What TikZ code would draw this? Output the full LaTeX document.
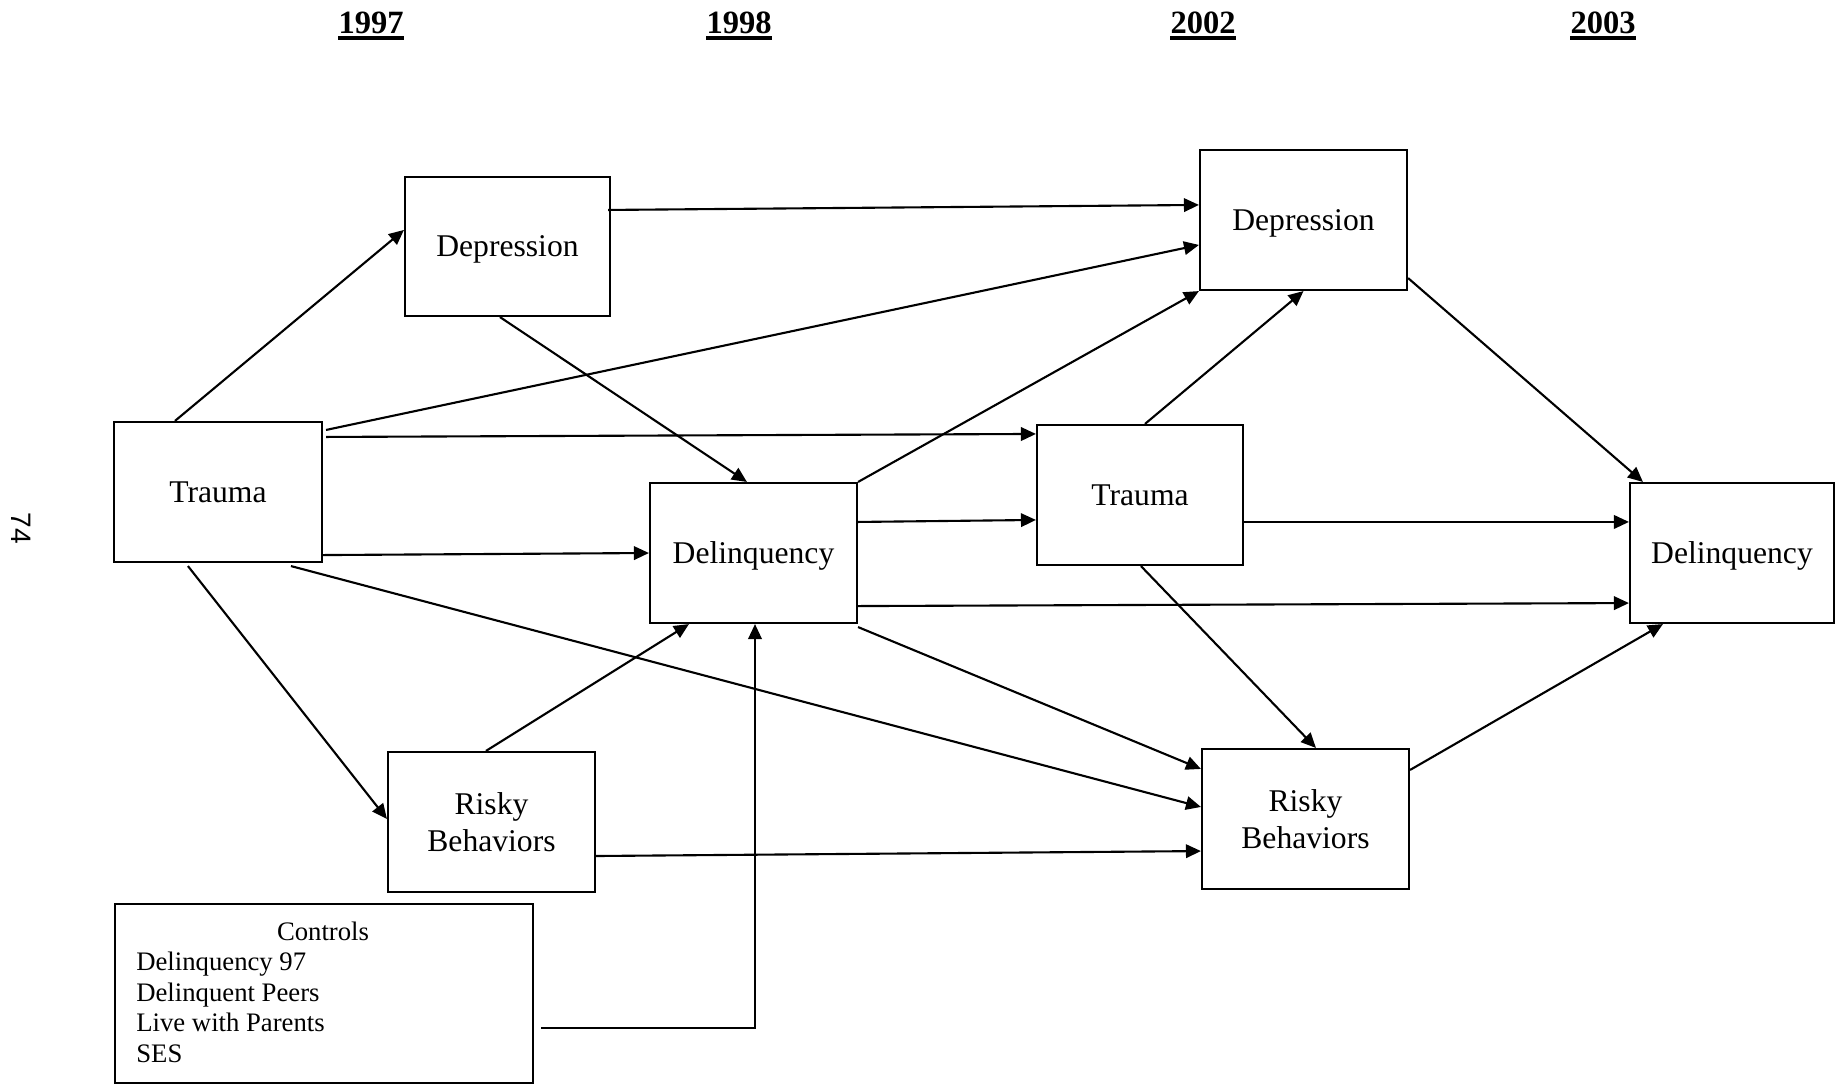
\documentclass[tikz,border=0pt]{standalone}
\usepackage{fontspec}
\setmainfont{Liberation Serif}
\newfontfamily\pagenofont{Liberation Sans}
\usetikzlibrary{arrows.meta,calc}
\begin{document}
\begin{tikzpicture}[x=0.02cm,y=-0.02cm,
  box/.style 2 args={draw, line width=1.2pt, inner sep=0pt, align=center,
    minimum width=#1*0.02cm, minimum height=#2*0.02cm, text depth=0pt,
    font=\fontsize{18}{21.5}\selectfont},
  link/.style={line width=1.2pt, -{Triangle[length=0.3cm,width=0.27cm]}},
  year/.style={font=\fontsize{18.5}{22}\selectfont\bfseries, inner sep=0pt, anchor=base},
  ctrltext/.style={font=\fontsize{15.2}{18}\selectfont, inner sep=0pt},
  yearbar/.style={line width=0.07cm}
]
\useasboundingbox (0,0) rectangle (1836,1086);

% page number
\node[font=\pagenofont\fontsize{16}{18}\selectfont, rotate=-90, inner sep=0pt] (pageno) at (21,528) {74};

% wave headings
\node[year] (y97) at (371,33) {1997};
\node[year] (y98) at (739,33) {1998};
\node[year] (y02) at (1203,33) {2002};
\node[year] (y03) at (1603,33) {2003};
\foreach \y in {y97,y98,y02,y03}
  \draw[yearbar] ($(\y.base west)+(0,5)$) -- ($(\y.base east)+(0,5)$);

% constructs
\node[box={205}{139}] (d1) at (507.5,246.5) {Depression};
\node[box={208}{140}] (t1) at (218,492) {Trauma};
\node[box={207}{140}] (q1) at (753.5,553) {Delinquency};
\node[box={207}{140}] (r1) at (491.5,822) {Risky\\Behaviors};
\node[box={207}{140}] (d2) at (1303.5,220) {Depression};
\node[box={206}{140}] (t2) at (1140,495) {Trauma};
\node[box={207}{140}] (r2) at (1305.5,819) {Risky\\Behaviors};
\node[box={204}{140}] (q2) at (1732,553) {Delinquency};

% control variables
\node[box={418}{179}] (ctrl) at (324,993.5) {};
\node[ctrltext, anchor=base] (ch) at (323,940) {Controls};
\node[ctrltext, anchor=base west] (c1) at (136,970) {Delinquency 97};
\node[ctrltext, anchor=base west] (c2) at (136,1001) {Delinquent Peers};
\node[ctrltext, anchor=base west] (c3) at (136,1031.5) {Live with Parents};
\node[ctrltext, anchor=base west] (c4) at (136,1062) {SES};

% paths from 1997 trauma
\draw[link] ($(t1.north west)+(62,0)$) -- ($(d1.north west)+(0,54)$);
\draw[link] ($(t1.north east)+(3,9)$) -- ($(d2.north west)+(0,96)$);
\draw[link] ($(t1.north east)+(3,16)$) -- ($(t2.north west)+(0,10)$);
\draw[link] ($(t1.south east)+(0,-8)$) -- (q1.west);
\draw[link] ($(t1.south west)+(178,3)$) -- ($(r2.north west)+(0,59)$);
\draw[link] ($(t1.south west)+(75,3)$) -- ($(r1.north west)+(0,68)$);

% paths from 1997 depression and risky behaviors
\draw[link] ($(d1.north east)+(-3,34)$) -- ($(d2.north west)+(0,56)$);
\draw[link] ($(d1.south west)+(96,0)$) -- ($(q1.north west)+(98,0)$);
\draw[link] ($(r1.north west)+(99,0)$) -- ($(q1.south west)+(40,0)$);
\draw[link] ($(r1.east)+(0,34)$) -- ($(r2.south west)+(0,-39)$);

% controls into 1998 delinquency
\coordinate (cstart) at ($(ctrl.east)+(7,34.5)$);
\draw[link] (cstart) -| ($(q1.south)+(1.5,0)$);

% paths from 1998 delinquency
\draw[link] (q1.north east) -- (d2.south west);
\draw[link] ($(q1.north east)+(0,40)$) -- ($(t2.north west)+(0,96)$);
\draw[link] ($(q1.south east)+(0,-18)$) -- ($(q2.south west)+(0,-21)$);
\draw[link] ($(q1.south east)+(0,3)$) -- ($(r2.north west)+(0,21)$);

% paths from 2002 constructs
\draw[link] ($(t2.north west)+(109,0)$) -- (d2.south);
\draw[link] ($(t2.north east)+(0,98)$) -- ($(q2.north west)+(0,40)$);
\draw[link] ($(t2.south west)+(105,0)$) -- ($(r2.north west)+(115,0)$);
\draw[link] ($(d2.south east)+(0,-13)$) -- ($(q2.north west)+(14,0)$);
\draw[link] ($(r2.north east)+(0,22)$) -- ($(q2.south west)+(34,0)$);
\end{tikzpicture}
\end{document}
